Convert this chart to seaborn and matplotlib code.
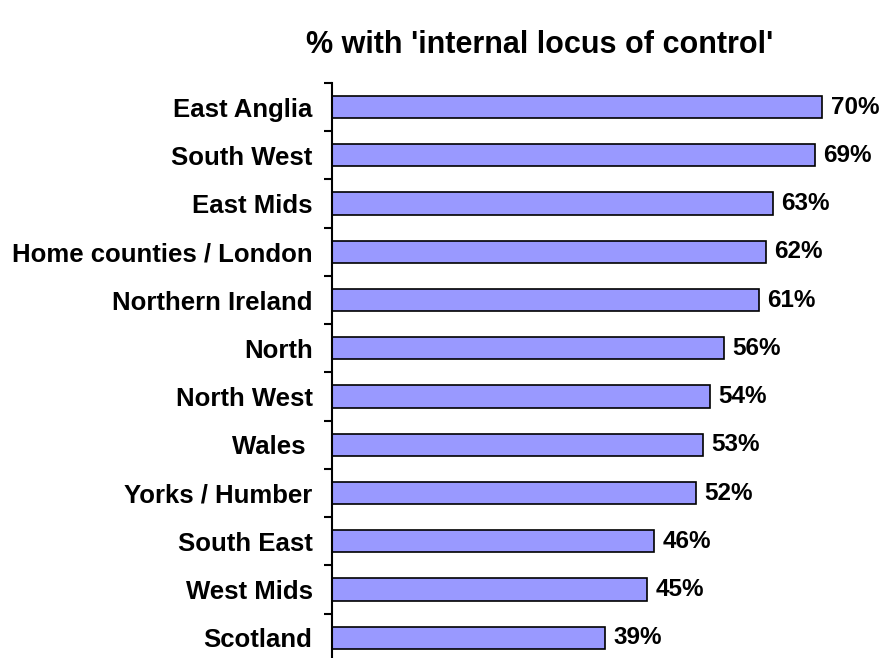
import matplotlib
matplotlib.use("Agg")
import matplotlib.pyplot as plt
import seaborn as sns
import pandas as pd
import numpy as np

regions = ["East Anglia", "South West", "East Mids", "Home counties / London",
           "Northern Ireland", "North", "North West", "Wales ", "Yorks / Humber",
           "South East", "West Mids", "Scotland"]
values = [70, 69, 63, 62, 61, 56, 54, 53, 52, 46, 45, 39]

sns.set_theme(style="white")
plt.rcParams['font.family'] = ['Liberation Sans', 'DejaVu Sans']
plt.rcParams['text.color'] = 'black'
plt.rcParams['ytick.color'] = 'black'

df = pd.DataFrame({"region": regions, "value": values})

fig = plt.figure(figsize=(8.81, 6.58), dpi=100)
ax = fig.add_axes([0.3768, -0.006, 0.62, 0.88])

sns.barplot(data=df, y="region", x="value", orient="h", color="#9999FF",
            edgecolor="black", linewidth=1.2, width=0.46, saturation=1, ax=ax)

for p, v in zip(ax.patches, values):
    ax.text(p.get_width() + 1.2, p.get_y() + p.get_height() / 2, f"{v}%",
            va="center", ha="left", fontsize=17.5, fontweight="bold", color="black")

ax.set_xlim(0, 78)
ax.set_ylim(len(regions) - 0.5, -0.5)
ax.set_xlabel("")
ax.set_ylabel("")
ax.set_xticks([])
for s in ["top", "right", "bottom"]:
    ax.spines[s].set_visible(False)
ax.spines["left"].set_linewidth(1.5)
ax.spines["left"].set_color("black")

ax.set_yticks(np.arange(len(regions)))
ax.set_yticklabels(regions, fontsize=18.5, fontweight="bold", color="black")
ax.tick_params(axis="y", which="major", length=0, pad=14)
ax.set_yticks(np.arange(len(regions) + 1) - 0.5, minor=True)
ax.tick_params(axis="y", which="minor", left=True, length=6, width=1.5, color="black", direction="out")

fig.text(0.6124, 0.9316, "% with 'internal locus of control'", ha="center", va="center",
         fontsize=22, fontweight="bold", color="black")

fig.savefig("out.png", dpi=100)
